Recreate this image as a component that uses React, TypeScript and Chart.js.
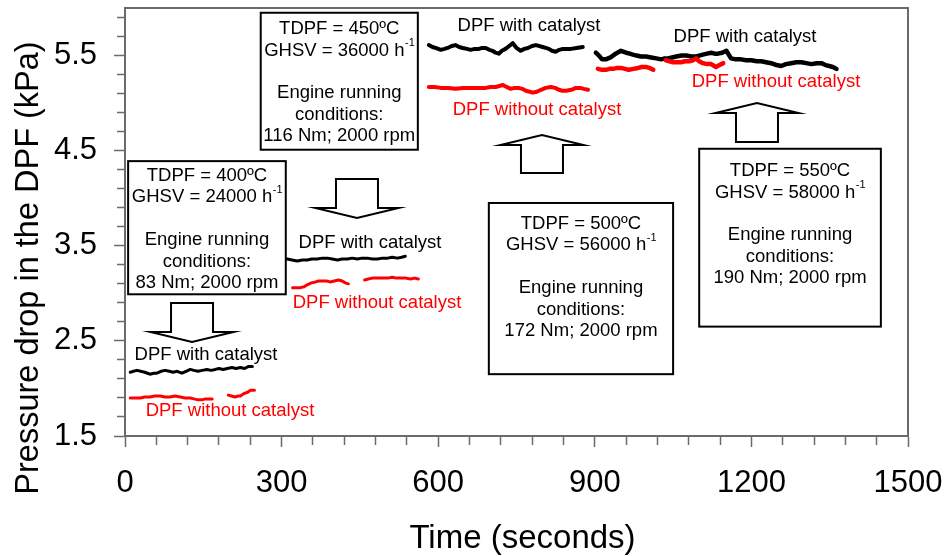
import React, { useEffect, useRef } from "react";
import { Chart, registerables } from "chart.js";

Chart.register(...registerables);

// ---------------- data ----------------
const time400With = [10, 16, 23, 30, 38, 43, 48, 55, 61, 69, 77, 85, 92, 100, 109, 117, 125, 132, 140, 148, 157, 165, 173, 180, 188, 196, 205, 213, 221, 229, 236, 244];
const p400With = [2.17, 2.18, 2.19, 2.18, 2.17, 2.16, 2.15, 2.16, 2.16, 2.18, 2.19, 2.18, 2.17, 2.18, 2.16, 2.18, 2.2, 2.19, 2.18, 2.19, 2.2, 2.19, 2.2, 2.21, 2.2, 2.21, 2.22, 2.21, 2.22, 2.21, 2.23, 2.23];

const time400Without = [10, 19, 29, 38, 48, 57, 67, 77, 86, 96, 106, 115, 125, 132, 140, 147, 154, 160, 167, 182, 198, 204, 211, 216, 221, 226, 230, 235, 240, 244, 248];
const p400Without = [1.9, 1.9, 1.9, 1.91, 1.91, 1.92, 1.92, 1.91, 1.91, 1.92, 1.91, 1.9, 1.9, 1.89, 1.88, 1.88, 1.89, 1.89, 1.89, null, 1.93, 1.92, 1.91, 1.92, 1.92, 1.94, 1.95, 1.96, 1.98, 1.98, 1.98];

const time450With = [305, 311, 320, 330, 340, 349, 358, 368, 378, 388, 397, 407, 416, 426, 435, 445, 454, 464, 474, 484, 493, 503, 512, 522, 530, 537];
const p450With = [3.36, 3.36, 3.35, 3.34, 3.35, 3.35, 3.36, 3.36, 3.37, 3.37, 3.36, 3.35, 3.36, 3.36, 3.37, 3.36, 3.37, 3.37, 3.36, 3.36, 3.37, 3.37, 3.38, 3.37, 3.38, 3.39];

const time450Without = [321, 328, 336, 343, 349, 357, 365, 371, 378, 386, 393, 401, 409, 416, 422, 428, 444, 459, 466, 474, 484, 493, 503, 512, 520, 528, 538, 547, 555, 562];
const p450Without = [3.06, 3.06, 3.06, 3.07, 3.09, 3.11, 3.12, 3.13, 3.13, 3.13, 3.12, 3.13, 3.14, 3.13, 3.11, 3.1, null, 3.14, 3.15, 3.16, 3.16, 3.16, 3.16, 3.17, 3.16, 3.16, 3.16, 3.15, 3.16, 3.15];

const time500With = [582, 589, 595, 605, 612, 618, 626, 633, 640, 647, 655, 662, 670, 678, 684, 691, 698, 704, 710, 716, 722, 729, 736, 743, 750, 758, 765, 772, 780, 787, 794, 800, 806, 812, 818, 825, 832, 839, 846, 854, 865, 877];
const p500With = [5.61, 5.59, 5.58, 5.56, 5.57, 5.58, 5.6, 5.61, 5.59, 5.58, 5.57, 5.56, 5.57, 5.57, 5.58, 5.58, 5.56, 5.55, 5.53, 5.52, 5.55, 5.57, 5.6, 5.63, 5.58, 5.55, 5.57, 5.58, 5.6, 5.61, 5.6, 5.59, 5.58, 5.57, 5.55, 5.54, 5.56, 5.57, 5.57, 5.57, 5.58, 5.59];

const time500Without = [582, 593, 605, 619, 633, 648, 662, 676, 691, 700, 710, 717, 724, 731, 739, 746, 754, 761, 768, 775, 781, 789, 797, 806, 816, 824, 831, 838, 845, 855, 864, 872, 879, 887];
const p500Without = [5.17, 5.17, 5.16, 5.16, 5.15, 5.16, 5.16, 5.16, 5.16, 5.17, 5.17, 5.18, 5.19, 5.17, 5.15, 5.16, 5.16, 5.15, 5.13, 5.12, 5.11, 5.12, 5.14, 5.16, 5.17, 5.16, 5.14, 5.13, 5.13, 5.14, 5.16, 5.16, 5.15, 5.14];

const time550With = [902, 908, 914, 921, 930, 940, 950, 960, 967, 973, 980, 988, 998, 1008, 1018, 1027, 1034, 1040, 1048, 1056, 1066, 1075, 1085, 1094, 1100, 1107, 1115, 1123, 1130, 1136, 1144, 1152, 1161, 1170, 1180, 1190, 1200, 1210, 1219, 1228, 1238, 1248, 1257, 1266, 1276, 1286, 1296, 1305, 1315, 1325, 1334, 1342, 1349, 1356, 1363];
const p550With = [5.53, 5.5, 5.46, 5.46, 5.48, 5.52, 5.55, 5.53, 5.52, 5.51, 5.5, 5.49, 5.49, 5.48, 5.47, 5.46, 5.47, 5.47, 5.48, 5.49, 5.5, 5.5, 5.49, 5.49, 5.5, 5.51, 5.52, 5.53, 5.52, 5.52, 5.53, 5.55, 5.47, 5.46, 5.46, 5.45, 5.45, 5.44, 5.44, 5.43, 5.42, 5.4, 5.39, 5.41, 5.42, 5.43, 5.43, 5.42, 5.41, 5.42, 5.42, 5.4, 5.39, 5.38, 5.36];

const time550Without = [906, 914, 921, 928, 935, 943, 950, 958, 965, 974, 983, 990, 998, 1005, 1012, 1024, 1036, 1043, 1050, 1058, 1065, 1073, 1081, 1088, 1094, 1100, 1107, 1115, 1123, 1132, 1139, 1146];
const p550Without = [5.36, 5.35, 5.35, 5.36, 5.36, 5.37, 5.37, 5.36, 5.35, 5.36, 5.37, 5.38, 5.38, 5.37, 5.35, null, 5.45, 5.44, 5.43, 5.43, 5.43, 5.44, 5.44, 5.45, 5.47, 5.44, 5.42, 5.41, 5.41, 5.38, 5.4, 5.42];

// axis ticks
const xTickValues = [0, 60, 120, 180, 240, 300, 360, 420, 480, 540, 600, 660, 720, 780, 840, 900, 960, 1020, 1080, 1140, 1200, 1260, 1320, 1380, 1440, 1500];
const xMajorTicks = [0, 300, 600, 900, 1200, 1500];
const xTickLabels = ["0", "300", "600", "900", "1200", "1500"];
const yTickValues = [1.5, 1.7, 1.9, 2.1, 2.3, 2.5, 2.7, 2.9, 3.1, 3.3, 3.5, 3.7, 3.9, 4.1, 4.3, 4.5, 4.7, 4.9, 5.1, 5.3, 5.5, 5.7, 5.9];
const yMajorTicks = [1.5, 2.5, 3.5, 4.5, 5.5];
const yTickLabels = ["1.5", "2.5", "3.5", "4.5", "5.5"];

// test conditions shown in boxes
const boxTemps = [400, 450, 500, 550];
const boxGhsv = [24000, 36000, 56000, 58000];
const boxTorque = [83, 116, 172, 190];
const boxSpeed = [2000, 2000, 2000, 2000];

const xTitle = "Time (seconds)";
const yTitle = "Pressure drop in the DPF (kPa)";
const withLabel = "DPF with catalyst";
const withoutLabel = "DPF without catalyst";

// ---------------- layout of annotations (data coordinates) ----------------
const boxLayout = [
  { t0: 6, t1: 308, pTop: 4.39, pBottom: 2.99, pText: 4.234 },
  { t0: 260, t1: 561, pTop: 5.95, pBottom: 4.51, pText: 5.779 },
  { t0: 697, t1: 1050, pTop: 3.95, pBottom: 2.15, pText: 3.729 },
  { t0: 1100, t1: 1448, pTop: 4.52, pBottom: 2.65, pText: 4.286 },
];
const arrowLayout = [
  { t: 128.4, pTail: 2.898, pTip: 2.488 },
  { t: 444.4, pTail: 4.202, pTip: 3.792 },
  { t: 798.8, pTail: 4.265, pTip: 4.665 },
  { t: 1210.7, pTail: 4.591, pTip: 5.001 },
];
const withLabelPos = [
  { t: 155.2, p: 2.352 },
  { t: 469.3, p: 3.529 },
  { t: 774, p: 5.811 },
  { t: 1187.7, p: 5.695 },
];
const withoutLabelPos = [
  { t: 201.1, p: 1.763 },
  { t: 482.8, p: 2.898 },
  { t: 789.3, p: 4.928 },
  { t: 1247.1, p: 5.222 },
];

const FONT = "'Liberation Sans', Arial, Helvetica, sans-serif";
const AXIS = "#6a6a6a";
const RED = "#ff0000";
const BLACK = "#000000";

function series(times: number[], ps: (number | null)[], color: string, width: number) {
  return {
    data: times.map((t, i) => ({ x: t, y: ps[i] })),
    borderColor: color,
    backgroundColor: color,
    borderWidth: width,
    pointRadius: 0,
    pointHoverRadius: 0,
    fill: false,
    tension: 0,
    spanGaps: false,
    borderJoinStyle: "round",
    borderCapStyle: "round",
  };
}

const overlayPlugin = {
  id: "overlay",
  afterDraw(chart: any) {
    const { ctx, chartArea: ca, scales } = chart;
    const xs = scales.x;
    const ys = scales.y;
    const X = (t: number) => xs.getPixelForValue(t);
    const Y = (p: number) => ys.getPixelForValue(p);
    ctx.save();

    // frame top and right
    ctx.strokeStyle = AXIS;
    ctx.lineWidth = 2;
    ctx.beginPath();
    ctx.moveTo(Math.round(ca.left) - 1, Math.round(ca.top));
    ctx.lineTo(Math.round(ca.right), Math.round(ca.top));
    ctx.lineTo(Math.round(ca.right), Math.round(ca.bottom) + 1);
    ctx.stroke();

    // boxes
    const fontMain = `18.5px ${FONT}`;
    const fontSup = `11px ${FONT}`;
    const lh = 21.4;
    boxLayout.forEach((b, i) => {
      const l = X(b.t0), r = X(b.t1), t = Y(b.pTop), bt = Y(b.pBottom);
      ctx.fillStyle = "#fff";
      ctx.fillRect(l, t, r - l, bt - t);
      ctx.strokeStyle = "#000";
      ctx.lineWidth = 2;
      ctx.strokeRect(l, t, r - l, bt - t);
      const cx = (l + r) / 2;
      let y = Y(b.pText);
      ctx.fillStyle = "#000";
      ctx.textBaseline = "middle";
      ctx.font = fontMain;
      ctx.textAlign = "center";
      ctx.fillText(`TDPF = ${boxTemps[i]}\u00BAC`, cx, y);
      y += lh;
      const main = `GHSV = ${boxGhsv[i]} h`;
      const sup = "-1";
      ctx.font = fontMain;
      const wM = ctx.measureText(main).width;
      ctx.font = fontSup;
      const wS = ctx.measureText(sup).width;
      const sx = cx - (wM + wS) / 2;
      ctx.textAlign = "left";
      ctx.font = fontMain;
      ctx.fillText(main, sx, y);
      ctx.font = fontSup;
      ctx.fillText(sup, sx + wM + 0.5, y - 7);
      y += 2 * lh;
      ctx.textAlign = "center";
      ctx.font = fontMain;
      ctx.fillText("Engine running", cx, y);
      y += lh;
      ctx.fillText("conditions:", cx, y);
      y += lh;
      ctx.fillText(`${boxTorque[i]} Nm; ${boxSpeed[i]} rpm`, cx, y);
    });

    // block arrows
    arrowLayout.forEach((a) => {
      const cx = X(a.t), yTail = Y(a.pTail), yTip = Y(a.pTip);
      const dir = Math.sign(yTip - yTail);
      const yBase = yTip - dir * 10;
      ctx.beginPath();
      ctx.moveTo(cx - 21, yTail);
      ctx.lineTo(cx - 21, yBase);
      ctx.lineTo(cx - 41.5, yBase);
      ctx.lineTo(cx, yTip);
      ctx.lineTo(cx + 41.5, yBase);
      ctx.lineTo(cx + 21, yBase);
      ctx.lineTo(cx + 21, yTail);
      ctx.closePath();
      ctx.fillStyle = "#fff";
      ctx.fill();
      ctx.strokeStyle = "#000";
      ctx.lineWidth = 2;
      ctx.lineJoin = "miter";
      ctx.stroke();
    });

    // series labels
    ctx.font = fontMain;
    ctx.textAlign = "center";
    ctx.textBaseline = "middle";
    ctx.fillStyle = BLACK;
    withLabelPos.forEach((q) => ctx.fillText(withLabel, X(q.t), Y(q.p)));
    ctx.fillStyle = RED;
    withoutLabelPos.forEach((q) => ctx.fillText(withoutLabel, X(q.t), Y(q.p)));

    // axis titles
    ctx.fillStyle = "#000";
    ctx.textBaseline = "alphabetic";
    ctx.textAlign = "center";
    ctx.font = `33px ${FONT}`;
    ctx.fillText(xTitle, (ca.left + ca.right) / 2 + 6, 548);
    ctx.save();
    ctx.translate(38, 268);
    ctx.rotate(-Math.PI / 2);
    ctx.font = `32.5px ${FONT}`;
    ctx.fillText(yTitle, 0, 0);
    ctx.restore();

    ctx.restore();
  },
};

const isMajorX = (v: number) => xMajorTicks.indexOf(v) >= 0;
const isMajorY = (v: number) => yMajorTicks.some((m) => Math.abs(m - v) < 1e-6);

export default function App() {
  const ref = useRef<HTMLCanvasElement | null>(null);
  useEffect(() => {
    if (!ref.current) return;
    const chart = new Chart(ref.current, {
      type: "line",
      data: {
        datasets: [
          series(time400Without, p400Without, RED, 3),
          series(time450Without, p450Without, RED, 3),
          series(time500Without, p500Without, RED, 4),
          series(time550Without, p550Without, RED, 4.5),
          series(time400With, p400With, BLACK, 3),
          series(time450With, p450With, BLACK, 3),
          series(time500With, p500With, BLACK, 4),
          series(time550With, p550With, BLACK, 4.5),
        ] as any,
      },
      options: {
        responsive: false,
        devicePixelRatio: 1,
        animation: false,
        events: [],
        layout: { padding: { left: 0, right: 43, top: 8, bottom: 0 }, autoPadding: false } as any,
        plugins: { legend: { display: false }, tooltip: { enabled: false }, title: { display: false } },
        scales: {
          x: {
            type: "linear",
            min: 0,
            max: 1500,
            afterBuildTicks: (s: any) => {
              s.ticks = xTickValues.map((v) => ({ value: v }));
            },
            afterFit: (s: any) => {
              s.height = 120;
              s.paddingLeft = 0;
              s.paddingRight = 0;
              s.paddingTop = 0;
              s.paddingBottom = 0;
            },
            ticks: {
              autoSkip: false,
              maxRotation: 0,
              minRotation: 0,
              color: "#000",
              padding: 18,
              font: { family: FONT, size: 31 },
              callback: (v: any) => {
                const idx = xMajorTicks.indexOf(Number(v));
                return idx >= 0 ? xTickLabels[idx] : "";
              },
            },
            grid: {
              display: true,
              drawOnChartArea: false,
              drawTicks: true,
              tickLength: 11,
              tickColor: AXIS,
              tickWidth: 1.5,
              tickBorderDash: (c: any) => (c.tick && isMajorX(c.tick.value) ? [] : [8, 100]),
              tickBorderDashOffset: 0,
            } as any,
            border: { display: true, color: AXIS, width: 2 },
            title: { display: false },
          },
          y: {
            type: "linear",
            min: 1.5,
            max: 6.0,
            afterBuildTicks: (s: any) => {
              s.ticks = yTickValues.map((v) => ({ value: v }));
            },
            afterFit: (s: any) => {
              s.width = 125;
              s.paddingLeft = 0;
              s.paddingRight = 0;
              s.paddingTop = 0;
              s.paddingBottom = 0;
            },
            ticks: {
              autoSkip: false,
              color: "#000",
              padding: 17,
              font: { family: FONT, size: 31 },
              callback: (v: any) => {
                const idx = yMajorTicks.findIndex((m) => Math.abs(m - Number(v)) < 1e-6);
                return idx >= 0 ? yTickLabels[idx] : "";
              },
            },
            grid: {
              display: true,
              drawOnChartArea: false,
              drawTicks: true,
              tickLength: 11,
              tickColor: AXIS,
              tickWidth: 1.5,
              tickBorderDash: (c: any) => (c.tick && isMajorY(c.tick.value) ? [] : [8, 100]),
              tickBorderDashOffset: (c: any) => (c.tick && isMajorY(c.tick.value) ? 0 : 105),
            } as any,
            border: { display: true, color: AXIS, width: 2 },
            title: { display: false },
          },
        },
      } as any,
      plugins: [overlayPlugin],
    });
    return () => chart.destroy();
  }, []);

  return (
    <div style={{ position: "absolute", left: 0, top: 0, width: 951, height: 556, background: "#fff" }}>
      <canvas ref={ref} width={951} height={556} style={{ display: "block", width: 951, height: 556 }} />
    </div>
  );
}
